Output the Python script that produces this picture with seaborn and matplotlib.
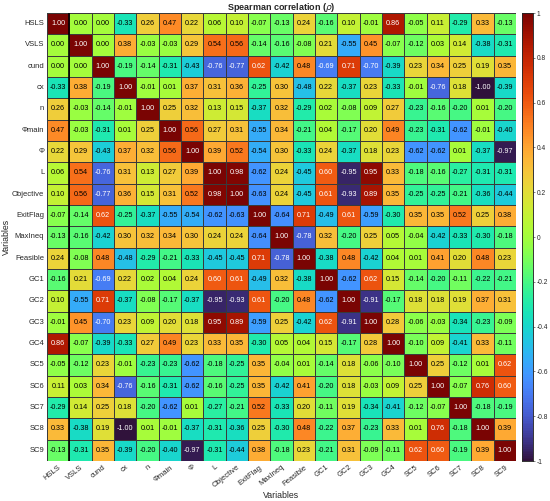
import numpy as np
import pandas as pd
import matplotlib
matplotlib.use("Agg")
import matplotlib.pyplot as plt
import seaborn as sns

# переменные
variables = ['HSLS', 'VSLS', 'cund', 'cx', 'n', 'Φmain', 'Φ', 'L', 'Objective',
             'ExitFlag', 'MaxIneq', 'Feasible', 'GC1', 'GC2', 'GC3', 'GC4',
             'SC5', 'SC6', 'SC7', 'SC8', 'SC9']

# строки матрицы корреляций Спирмена
r_hsls = [1.00, 0.00, 0.00, -0.33, 0.26, 0.47, 0.22, 0.06, 0.10, -0.07, -0.13, 0.24, -0.16, 0.10, -0.01, 0.86, -0.05, 0.11, -0.29, 0.33, -0.13]
r_vsls = [0.00, 1.00, 0.00, 0.38, -0.03, -0.03, 0.29, 0.54, 0.56, -0.14, -0.16, -0.08, 0.21, -0.55, 0.45, -0.07, -0.12, 0.03, 0.14, -0.38, -0.31]
r_cund = [0.00, 0.00, 1.00, -0.19, -0.14, -0.31, -0.43, -0.76, -0.77, 0.62, -0.42, 0.48, -0.69, 0.71, -0.70, -0.39, 0.23, 0.34, 0.25, 0.19, 0.35]
r_cx = [-0.33, 0.38, -0.19, 1.00, -0.01, 0.01, 0.37, 0.31, 0.36, -0.25, 0.30, -0.48, 0.22, -0.37, 0.23, -0.33, -0.01, -0.76, 0.18, -1.00, -0.39]
r_n = [0.26, -0.03, -0.14, -0.01, 1.00, 0.25, 0.32, 0.13, 0.15, -0.37, 0.32, -0.29, 0.02, -0.08, 0.09, 0.27, -0.23, -0.16, -0.20, 0.01, -0.20]
r_phimain = [0.47, -0.03, -0.31, 0.01, 0.25, 1.00, 0.56, 0.27, 0.31, -0.55, 0.34, -0.21, 0.04, -0.17, 0.20, 0.49, -0.23, -0.31, -0.62, -0.01, -0.40]
r_phi = [0.22, 0.29, -0.43, 0.37, 0.32, 0.56, 1.00, 0.39, 0.52, -0.54, 0.30, -0.33, 0.24, -0.37, 0.18, 0.23, -0.62, -0.62, 0.01, -0.37, -0.97]
r_l = [0.06, 0.54, -0.76, 0.31, 0.13, 0.27, 0.39, 1.00, 0.98, -0.62, 0.24, -0.45, 0.60, -0.95, 0.95, 0.33, -0.18, -0.16, -0.27, -0.31, -0.31]
r_obj = [0.10, 0.56, -0.77, 0.36, 0.15, 0.31, 0.52, 0.98, 1.00, -0.63, 0.24, -0.45, 0.61, -0.93, 0.89, 0.35, -0.25, -0.25, -0.21, -0.36, -0.44]
r_exit = [-0.07, -0.14, 0.62, -0.25, -0.37, -0.55, -0.54, -0.62, -0.63, 1.00, -0.64, 0.71, -0.49, 0.61, -0.59, -0.30, 0.35, 0.35, 0.52, 0.25, 0.38]
r_maxineq = [-0.13, -0.16, -0.42, 0.30, 0.32, 0.34, 0.30, 0.24, 0.24, -0.64, 1.00, -0.78, 0.32, -0.20, 0.25, 0.05, -0.04, -0.42, -0.33, -0.30, -0.18]
r_feas = [0.24, -0.08, 0.48, -0.48, -0.29, -0.21, -0.33, -0.45, -0.45, 0.71, -0.78, 1.00, -0.38, 0.48, -0.42, 0.04, 0.01, 0.41, 0.20, 0.48, 0.23]
r_gc1 = [-0.16, 0.21, -0.69, 0.22, 0.02, 0.04, 0.24, 0.60, 0.61, -0.49, 0.32, -0.38, 1.00, -0.62, 0.62, 0.15, -0.14, -0.20, -0.11, -0.22, -0.21]
r_gc2 = [0.10, -0.55, 0.71, -0.37, -0.08, -0.17, -0.37, -0.95, -0.93, 0.61, -0.20, 0.48, -0.62, 1.00, -0.91, -0.17, 0.18, 0.18, 0.19, 0.37, 0.31]
r_gc3 = [-0.01, 0.45, -0.70, 0.23, 0.09, 0.20, 0.18, 0.95, 0.89, -0.59, 0.25, -0.42, 0.62, -0.91, 1.00, 0.28, -0.06, -0.03, -0.34, -0.23, -0.09]
r_gc4 = [0.86, -0.07, -0.39, -0.33, 0.27, 0.49, 0.23, 0.33, 0.35, -0.30, 0.05, 0.04, 0.15, -0.17, 0.28, 1.00, -0.10, 0.09, -0.41, 0.33, -0.11]
r_sc5 = [-0.05, -0.12, 0.23, -0.01, -0.23, -0.23, -0.62, -0.18, -0.25, 0.35, -0.04, 0.01, -0.14, 0.18, -0.06, -0.10, 1.00, 0.25, -0.12, 0.01, 0.62]
r_sc6 = [0.11, 0.03, 0.34, -0.76, -0.16, -0.31, -0.62, -0.16, -0.25, 0.35, -0.42, 0.41, -0.20, 0.18, -0.03, 0.09, 0.25, 1.00, -0.07, 0.76, 0.60]
r_sc7 = [-0.29, 0.14, 0.25, 0.18, -0.20, -0.62, 0.01, -0.27, -0.21, 0.52, -0.33, 0.20, -0.11, 0.19, -0.34, -0.41, -0.12, -0.07, 1.00, -0.18, -0.19]
r_sc8 = [0.33, -0.38, 0.19, -1.00, 0.01, -0.01, -0.37, -0.31, -0.36, 0.25, -0.30, 0.48, -0.22, 0.37, -0.23, 0.33, 0.01, 0.76, -0.18, 1.00, 0.39]
r_sc9 = [-0.13, -0.31, 0.35, -0.39, -0.20, -0.40, -0.97, -0.31, -0.44, 0.38, -0.18, 0.23, -0.21, 0.31, -0.09, -0.11, 0.62, 0.60, -0.19, 0.39, 1.00]

rows = [r_hsls, r_vsls, r_cund, r_cx, r_n, r_phimain, r_phi, r_l, r_obj, r_exit,
        r_maxineq, r_feas, r_gc1, r_gc2, r_gc3, r_gc4, r_sc5, r_sc6, r_sc7, r_sc8, r_sc9]
df = pd.DataFrame(rows, index=variables, columns=variables)

sns.set_style("white")
plt.rcParams['font.family'] = ['Liberation Sans', 'DejaVu Sans']

fig = plt.figure(figsize=(5.5, 5.01), dpi=100)
W, H = 550, 501
ax = fig.add_axes([47 / W, 1 - 461 / H, 469 / W, 448 / H])
cax = fig.add_axes([522 / W, 1 - 461 / H, 11 / W, 448 / H])

sns.heatmap(df, ax=ax, cbar_ax=cax, cmap='turbo', vmin=-1, vmax=1,
            annot=True, fmt='.2f', annot_kws={'fontsize': 5.2},
            linewidths=0.5, linecolor='#3a3a3a', square=False)

# цвет подписей в ячейках
for t, v in zip(ax.texts, df.values.flatten()):
    t.set_color('white' if (v >= 0.595 or v <= -0.655) else 'black')

ax.axvline(1, color='black', lw=1.2)

ax.set_title('Spearman correlation ($\\rho$)', fontsize=6.5, fontweight='bold', pad=2)
ax.set_xlabel('Variables', fontsize=6.3, labelpad=1)
ax.set_ylabel('Variables', fontsize=6.3)
ax.yaxis.set_label_coords((11 - 47) / 469, 0.5)
ax.set_xticklabels(variables, rotation=38, ha='right', rotation_mode='anchor', fontsize=5.5)
ax.set_yticklabels(variables, rotation=0, fontsize=5.5)
ax.tick_params(axis='both', length=0, pad=2)

cax.set_yticks([-1, -0.8, -0.6, -0.4, -0.2, 0, 0.2, 0.4, 0.6, 0.8, 1])
cax.set_yticklabels(['-1', '-0.8', '-0.6', '-0.4', '-0.2', '0', '0.2', '0.4', '0.6', '0.8', '1'])
cax.tick_params(labelsize=4.8, length=1.5, width=0.4, pad=1)
for s in cax.spines.values():
    s.set_visible(True)
    s.set_linewidth(0.5)

fig.savefig('out.png', dpi=100)
